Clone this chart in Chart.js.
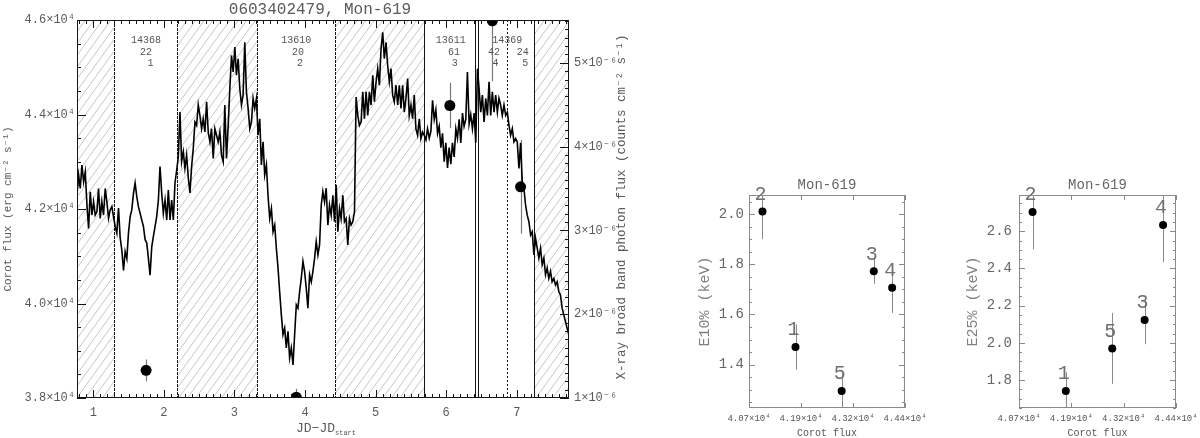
<!DOCTYPE html>
<html><head><meta charset="utf-8">
<script src="https://cdn.jsdelivr.net/npm/chart.js@4.4.1/dist/chart.umd.min.js"></script>
<style>
html,body{margin:0;padding:0;background:#fff;width:1200px;height:438px;overflow:hidden;}
canvas{position:absolute;top:0;}
#main{left:0}
#pA{left:690px}
#pB{left:940px}
</style></head><body>
<canvas id="main" width="640" height="438"></canvas>
<canvas id="pA" width="250" height="438"></canvas>
<canvas id="pB" width="260" height="438"></canvas>
<script>
// ---------------- data ----------------
const jd = [
0.769,0.793,0.816,0.840,0.864,0.887,0.911,0.934,0.958,0.981,
1.005,1.028,1.052,1.075,1.099,1.122,1.146,1.170,1.193,1.217,
1.240,1.264,1.287,1.311,1.334,1.358,1.381,1.405,1.429,1.452,
1.476,1.499,1.523,1.546,1.570,1.593,1.617,1.640,1.664,1.687,
1.711,1.735,1.758,1.782,1.805,1.829,1.852,1.876,1.899,1.923,
1.946,1.970,1.993,2.017,2.041,2.064,2.088,2.111,2.135,2.158,
2.182,2.205,2.229,2.252,2.276,2.299,2.323,2.347,2.370,2.394,
2.417,2.441,2.464,2.488,2.511,2.535,2.558,2.582,2.606,2.629,
2.653,2.676,2.700,2.723,2.747,2.770,2.794,2.817,2.841,2.864,
2.888,2.912,2.935,2.959,2.982,3.006,3.029,3.053,3.076,3.100,
3.123,3.147,3.170,3.194,3.218,3.241,3.265,3.288,3.312,3.335,
3.359,3.382,3.406,3.429,3.453,3.476,3.500,3.524,3.547,3.571,
3.594,3.618,3.641,3.665,3.688,3.712,3.735,3.759,3.782,3.806,
3.830,3.853,3.877,3.900,3.924,3.947,3.971,3.994,4.018,4.041,
4.065,4.089,4.112,4.136,4.159,4.183,4.206,4.230,4.253,4.277,
4.300,4.324,4.347,4.371,4.395,4.418,4.442,4.465,4.489,4.512,
4.536,4.559,4.583,4.606,4.630,4.653,4.677,4.701,4.724,4.748,
4.771,4.795,4.818,4.842,4.865,4.889,4.912,4.936,4.960,4.983,
5.007,5.030,5.054,5.077,5.101,5.124,5.148,5.171,5.195,5.218,
5.242,5.265,5.289,5.313,5.336,5.360,5.383,5.407,5.430,5.454,
5.477,5.501,5.524,5.548,5.571,5.595,5.619,5.642,5.666,5.689,
5.713,5.736,5.760,5.784,5.807,5.831,5.854,5.878,5.901,5.925,
5.948,5.972,5.995,6.019,6.042,6.066,6.089,6.113,6.137,6.160,
6.184,6.207,6.231,6.254,6.278,6.301,6.325,6.348,6.372,6.396,
6.419,6.443,6.466,6.490,6.513,6.537,6.560,6.584,6.607,6.631,
6.654,6.678,6.701,6.725,6.748,6.772,6.795,6.819,6.843,6.866,
6.890,6.913,6.937,6.960,6.984,7.007,7.031,7.054,7.078,7.101,
7.125,7.148,7.172,7.196,7.219,7.243,7.266,7.290,7.313,7.337,
7.360,7.384,7.407,7.431,7.454,7.478,7.501,7.525,7.549,7.572,
7.596,7.619,7.643,7.666,7.690,7.713,7.737];
const corotFlux = [
42294,42717,42435,42928,42576,42787,42083,41590,42365,41872,
42154,41872,41942,42435,41802,42154,41872,42435,42154,41802,
41980,42050,41840,41630,41490,42020,41400,41130,40700,41100,
40950,41490,41840,41980,42330,42550,42260,42050,41910,41770,
41630,41350,41280,40950,40600,41200,41420,41630,41840,42190,
42900,42340,41910,42190,41770,42400,41770,42190,41770,42550,
42820,43100,44050,43000,43210,42860,43140,42650,42340,42900,
43280,43840,43770,44200,43980,43700,43910,43630,44270,43630,
43420,43700,43070,43700,43560,43420,43630,43140,43000,44200,
43070,43770,44550,45250,44900,45430,44830,45180,44550,44200,
44410,45530,44480,44130,43700,43840,44340,44130,44340,43560,
43910,42930,43420,42720,42930,42290,41800,42010,41520,41660,
41170,40750,40250,39760,39340,39480,39060,39410,38850,39060,
38700,39340,39970,39900,40250,40530,40890,40680,40320,39900,
40610,40460,40680,40960,41310,41030,41240,42080,42370,42150,
42440,41660,42080,41870,42290,41730,42510,41520,42010,41800,
42290,41730,41800,41240,41800,41660,41730,41940,44370,43980,
43770,43840,44480,43910,44480,43980,44480,44200,44830,44270,
44690,44970,44620,45390,45740,45180,45530,45040,44690,44970,
44410,44270,44620,44200,44620,44130,44620,44050,44340,44760,
43980,44200,43910,44410,43700,43560,43910,43490,43630,43560,
43460,43700,43500,43650,44300,43900,44100,43600,43750,43300,
43600,43000,43400,42870,43300,42950,43400,43100,43700,43500,
43900,43400,44030,43750,43900,44900,43800,44000,43700,44030,
43400,44970,44550,44050,44410,43840,44340,43980,44690,43980,
44480,44050,44410,44050,44340,44200,43980,44200,43980,44050,
43770,43560,43700,43420,43490,43420,42860,43400,42580,42440,
42080,41870,41730,41450,41520,41030,41380,41170,40960,41170,
40820,40960,40610,40750,40530,40680,40460,40530,40390,40460,
40250,40180,39900,39760,39620,39480,39340];

const xrayJd   = [1.749, 3.877, 6.052, 6.654, 7.054];
const xrayFlux = [1.33e-6, 1.01e-6, 4.49e-6, 5.50e-6, 3.52e-6];
const xrayErr  = [0.13e-6, 0.10e-6, 0.27e-6, 0.72e-6, 0.56e-6];

const obsIds     = ['14368', '13610', '13611', '14369'];
const obsIdJd    = [1.749, 3.877, 6.065, 6.866];
const segCounts  = ['22', '20', '61', '42', '24'];
const segCountJd = [1.749, 3.900, 6.110, 6.678, 7.085];
const segNames   = ['1', '2', '3', '4', '5'];
const segNameJd  = [1.810, 3.930, 6.120, 6.700, 7.120];

const boundaryJd = [1.301, 2.191, 3.321, 4.432, 5.689, 6.415, 6.450, 7.243];
const dottedJd   = [6.866];
const hatchFrom  = [0.77, 2.191, 4.432, 7.243];
const hatchTo    = [1.301, 3.321, 5.689, 7.74];

const segCorot = [41803, 41020, 43660, 44095, 42898];
const e10      = [1.470, 2.010, 1.772, 1.706, 1.295];
const e10Err   = [0.09, 0.11, 0.05, 0.10, 0.07];
const e25      = [1.742, 2.703, 2.123, 2.634, 1.970];
const e25Err   = [0.10, 0.20, 0.13, 0.20, 0.19];
const corotTicks = [40700, 41933, 43167, 44400];

// ---------------- styling helpers ----------------
const MONO = '"Liberation Mono","DejaVu Sans Mono",monospace';
const TXT = '#5a5a5a';

function inwardTicks(ctx, scale, a, sides, isMajor, majLen, minLen, color) {
  ctx.save();
  ctx.strokeStyle = color; ctx.lineWidth = 1;
  ctx.beginPath();
  scale.ticks.forEach(t => {
    const v = t.value;
    const p = Math.round(scale.getPixelForValue(v)) + 0.5;
    const L = isMajor(v) ? majLen : minLen;
    sides.forEach(s => {
      if (s === 'bottom') { ctx.moveTo(p, a.bottom); ctx.lineTo(p, a.bottom - L); }
      if (s === 'top')    { ctx.moveTo(p, a.top);    ctx.lineTo(p, a.top + L); }
      if (s === 'left')   { ctx.moveTo(a.left, p);   ctx.lineTo(a.left + L, p); }
      if (s === 'right')  { ctx.moveTo(a.right, p);  ctx.lineTo(a.right - L, p); }
    });
  });
  ctx.stroke();
  ctx.restore();
}
function noGrid() { return {display:false, drawTicks:false}; }

// ---------------- main light-curve chart ----------------
const mainDecor = {
  id: 'mainDecor',
  beforeDatasetsDraw(chart) {
    const {ctx, chartArea:a, scales:{x, y2}} = chart;
    const H = a.bottom - a.top;
    ctx.save();
    ctx.beginPath(); ctx.rect(a.left, a.top, a.right - a.left, H); ctx.clip();
    const run = H * 0.72, gap = 8.5;
    hatchFrom.forEach((f, i) => {
      const x0 = x.getPixelForValue(f), x1 = x.getPixelForValue(hatchTo[i]);
      ctx.save();
      ctx.beginPath(); ctx.rect(x0, a.top, x1 - x0, H); ctx.clip();
      ctx.strokeStyle = '#b9b9b9'; ctx.lineWidth = 0.8;
      ctx.beginPath();
      for (let k = a.left - run; k < a.right; k += gap) {
        if (k + run < x0 || k > x1) continue;
        ctx.moveTo(k, a.bottom); ctx.lineTo(k + run, a.top);
      }
      ctx.stroke();
      ctx.restore();
    });
    ctx.strokeStyle = '#151515'; ctx.lineWidth = 1;
    boundaryJd.forEach((b, i) => {
      const p = Math.round(x.getPixelForValue(b)) + 0.5;
      ctx.setLineDash(i < 4 ? [3, 1] : []);
      ctx.beginPath(); ctx.moveTo(p, a.top); ctx.lineTo(p, a.bottom); ctx.stroke();
    });
    ctx.setLineDash([2, 2]);
    dottedJd.forEach(b => {
      const p = Math.round(x.getPixelForValue(b)) + 0.5;
      ctx.beginPath(); ctx.moveTo(p, a.top); ctx.lineTo(p, a.bottom); ctx.stroke();
    });
    ctx.setLineDash([]);
    ctx.strokeStyle = '#7a7a7a'; ctx.lineWidth = 1.2;
    xrayJd.forEach((t, i) => {
      const p = Math.round(x.getPixelForValue(t)) + 0.5;
      ctx.beginPath();
      ctx.moveTo(p, y2.getPixelForValue(xrayFlux[i] - xrayErr[i]));
      ctx.lineTo(p, y2.getPixelForValue(xrayFlux[i] + xrayErr[i]));
      ctx.stroke();
    });
    ctx.restore();
  },
  afterDatasetsDraw(chart) {
    const {ctx, chartArea:a, scales:{x, y, y2}} = chart;
    ctx.save();
    ctx.strokeStyle = '#151515'; ctx.lineWidth = 1;
    ctx.strokeRect(a.left + 0.5, a.top + 0.5, a.right - a.left - 1, a.bottom - a.top - 1);
    ctx.restore();
    inwardTicks(ctx, x, a, ['bottom', 'top'], v => Math.abs(v - Math.round(v)) < 1e-6, 8, 4, '#151515');
    inwardTicks(ctx, y, a, ['left'], v => v % 2000 === 0, 9, 4, '#151515');
    inwardTicks(ctx, y2, a, ['right'], v => { const n = v * 1e6; return Math.abs(n - Math.round(n)) < 1e-6; }, 9, 4, '#151515');
    ctx.save();
    ctx.fillStyle = '#555'; ctx.font = '10px ' + MONO;
    ctx.textAlign = 'center'; ctx.textBaseline = 'middle';
    obsIds.forEach((s, i) => ctx.fillText(s, x.getPixelForValue(obsIdJd[i]), a.top + 20));
    segCounts.forEach((s, i) => ctx.fillText(s, x.getPixelForValue(segCountJd[i]), a.top + 32));
    segNames.forEach((s, i) => ctx.fillText(s, x.getPixelForValue(segNameJd[i]), a.top + 43));
    ctx.fillStyle = TXT; ctx.font = '12.5px ' + MONO;
    ctx.translate(622, (a.top + a.bottom) / 2 - 2);
    ctx.rotate(-Math.PI / 2);
    ctx.fillText('X-ray broad band photon flux (counts cm⁻² s⁻¹)', 0, 0);
    ctx.restore();
    ctx.save();
    ctx.fillStyle = TXT; ctx.textBaseline = 'alphabetic'; ctx.textAlign = 'left';
    ctx.font = '13px ' + MONO;
    const main = 'JD−JD';
    const w1 = ctx.measureText(main).width;
    ctx.font = '7px ' + MONO;
    const w2 = ctx.measureText('start').width;
    const cx = (a.left + a.right) / 2 + 3;
    const x0 = cx - (w1 + w2) / 2;
    ctx.font = '13px ' + MONO;
    ctx.fillText(main, x0, 432);
    ctx.font = '7px ' + MONO;
    ctx.fillText('start', x0 + w1, 435);
    ctx.restore();
  }
};

new Chart(document.getElementById('main'), {
  type: 'scatter',
  data: {
    datasets: [
      {
        label: 'X-ray',
        data: xrayJd.map((t, i) => ({x: t, y: xrayFlux[i]})),
        yAxisID: 'y2', xAxisID: 'x',
        pointRadius: 5.5, pointHoverRadius: 5.5,
        backgroundColor: '#000', borderColor: '#000', borderWidth: 0,
        order: 1, clip: 0
      },
      {
        label: 'CoRoT',
        data: jd.map((t, i) => ({x: t, y: corotFlux[i]})),
        yAxisID: 'y', xAxisID: 'x',
        showLine: true, borderColor: '#000', borderWidth: 1.6,
        pointRadius: 0, pointHoverRadius: 0, tension: 0,
        order: 2, clip: 0
      }
    ]
  },
  options: {
    responsive: false, animation: false, devicePixelRatio: 1,
    layout: {padding: 0},
    plugins: {
      legend: {display: false}, tooltip: {enabled: false},
      title: {display: true, text: '0603402479, Mon-619', color: TXT,
              font: {family: MONO, size: 16, weight: 'normal', lineHeight: 1},
              padding: {top: 2, bottom: 2}}
    },
    scales: {
      x: {
        type: 'linear', position: 'bottom', min: 0.77, max: 7.74,
        afterBuildTicks: s => { const t = []; for (let i = 8; i <= 77; i++) t.push({value: i / 10}); s.ticks = t; },
        afterFit: s => { s.height = 40; s.paddingLeft = 0; s.paddingRight = 0; },
        ticks: {autoSkip: false, maxRotation: 0, minRotation: 0, padding: 8, color: TXT,
                font: {family: MONO, size: 12},
                callback: v => Math.abs(v - Math.round(v)) < 1e-6 ? String(Math.round(v)) : ''},
        grid: noGrid(), border: {display: false}
      },
      y: {
        type: 'linear', position: 'left', min: 38000, max: 46000,
        afterBuildTicks: s => { const t = []; for (let i = 76; i <= 92; i++) t.push({value: i * 500}); s.ticks = t; },
        afterFit: s => { s.width = 77; s.paddingTop = 0; s.paddingBottom = 0; },
        ticks: {autoSkip: false, padding: 2, color: TXT, font: {family: MONO, size: 12},
                callback: v => (v % 2000 === 0) ? (v / 1e4).toFixed(1) + '×10⁴' : ''},
        grid: noGrid(), border: {display: false},
        title: {display: true, text: 'Corot flux (erg cm⁻² s⁻¹)', color: TXT,
                font: {family: MONO, size: 11, lineHeight: 1}, padding: {top: 3, bottom: 0}}
      },
      y2: {
        type: 'linear', position: 'right', min: 1e-6, max: 5.51e-6,
        afterBuildTicks: s => { const t = []; for (let i = 10; i <= 55; i++) t.push({value: i * 1e-7}); s.ticks = t; },
        afterFit: s => { s.width = 71; s.paddingTop = 0; s.paddingBottom = 0; },
        ticks: {autoSkip: false, padding: 5, color: TXT, font: {family: MONO, size: 12},
                callback: v => { const n = v * 1e6; return Math.abs(n - Math.round(n)) < 1e-6 ? Math.round(n) + '×10⁻⁶' : ''; }},
        grid: noGrid(), border: {display: false}
      }
    }
  },
  plugins: [mainDecor]
});

// ---------------- hardness panels ----------------
function panelDecor(vals, errs) {
  return {
    id: 'panelDecor',
    beforeDatasetsDraw(chart) {
      const {ctx, chartArea:a, scales:{x, y}} = chart;
      ctx.save();
      ctx.beginPath(); ctx.rect(a.left, a.top, a.right - a.left, a.bottom - a.top); ctx.clip();
      ctx.strokeStyle = '#8a8a8a'; ctx.lineWidth = 1;
      segCorot.forEach((c, i) => {
        const p = Math.round(x.getPixelForValue(c)) + 0.5;
        ctx.beginPath();
        ctx.moveTo(p, y.getPixelForValue(vals[i] - errs[i]));
        ctx.lineTo(p, y.getPixelForValue(vals[i] + errs[i]));
        ctx.stroke();
      });
      ctx.restore();
    },
    afterDatasetsDraw(chart) {
      const {ctx, chartArea:a, scales:{x, y}} = chart;
      ctx.save();
      ctx.strokeStyle = '#8a8a8a'; ctx.lineWidth = 1;
      ctx.strokeRect(a.left + 0.5, a.top + 0.5, a.right - a.left - 1, a.bottom - a.top - 1);
      ctx.restore();
      inwardTicks(ctx, x, a, ['bottom', 'top'], () => true, 5, 3, '#8a8a8a');
      inwardTicks(ctx, y, a, ['left', 'right'], v => Math.round(v * 20) % 4 === 0, 6, 3, '#8a8a8a');
      ctx.save();
      ctx.fillStyle = '#666'; ctx.textAlign = 'center'; ctx.textBaseline = 'middle';
      ctx.font = '14px ' + MONO;
      ctx.fillText('Mon-619', (a.left + a.right) / 2, a.top - 10);
      ctx.font = '20px ' + MONO;
      ctx.fillStyle = '#707070';
      segCorot.forEach((c, i) => {
        ctx.fillText(segNames[i], x.getPixelForValue(c) - 2, y.getPixelForValue(vals[i]) - 17);
      });
      ctx.restore();
    }
  };
}

function panelChart(id, vals, errs, title, yMin, yMax, yW, padR, titlePad, tickPad) {
  return new Chart(document.getElementById(id), {
    type: 'scatter',
    data: {datasets: [{
      data: segCorot.map((c, i) => ({x: c, y: vals[i]})),
      pointRadius: 4, pointHoverRadius: 4,
      backgroundColor: '#000', borderColor: '#000', borderWidth: 0, clip: 0
    }]},
    options: {
      responsive: false, animation: false, devicePixelRatio: 1,
      layout: {padding: {top: 195, right: padR, left: 0, bottom: 0}},
      plugins: {legend: {display: false}, tooltip: {enabled: false}},
      scales: {
        x: {
          type: 'linear', min: 40700, max: 44400,
          afterBuildTicks: s => { s.ticks = corotTicks.map(v => ({value: v})); },
          afterFit: s => { s.height = 30; s.paddingLeft = 0; s.paddingRight = 0; },
          ticks: {autoSkip: false, maxRotation: 0, minRotation: 0, padding: 5, color: '#555',
                  font: {family: MONO, size: 9},
                  callback: v => (v / 1e4).toFixed(2) + '×10⁴'},
          grid: noGrid(), border: {display: false},
          title: {display: true, text: 'Corot flux', color: '#555',
                  font: {family: MONO, size: 10, lineHeight: 1}, padding: {top: 0, bottom: 0}}
        },
        y: {
          type: 'linear', min: yMin, max: yMax,
          afterBuildTicks: s => {
            const t = [];
            for (let i = Math.ceil(yMin * 20); i <= Math.floor(yMax * 20); i++) t.push({value: i / 20});
            s.ticks = t;
          },
          afterFit: s => { s.width = yW; s.paddingTop = 0; s.paddingBottom = 0; },
          ticks: {autoSkip: false, padding: tickPad, color: '#666', font: {family: MONO, size: 14},
                  callback: v => Math.round(v * 20) % 4 === 0 ? v.toFixed(1) : ''},
          grid: noGrid(), border: {display: false},
          title: {display: true, text: title, color: '#808080',
                  font: {family: MONO, size: 15, lineHeight: 1}, padding: {top: titlePad, bottom: 0}}
        }
      }
    },
    plugins: [panelDecor(vals, errs)]
  });
}

panelChart('pA', e10, e10Err, 'E10% (keV)', 1.227, 2.076, 59, 35, 7.5, 5);
panelChart('pB', e25, e25Err, 'E25% (keV)', 1.65, 2.795, 79, 24, 25.5, 7);
</script>
</body></html>
